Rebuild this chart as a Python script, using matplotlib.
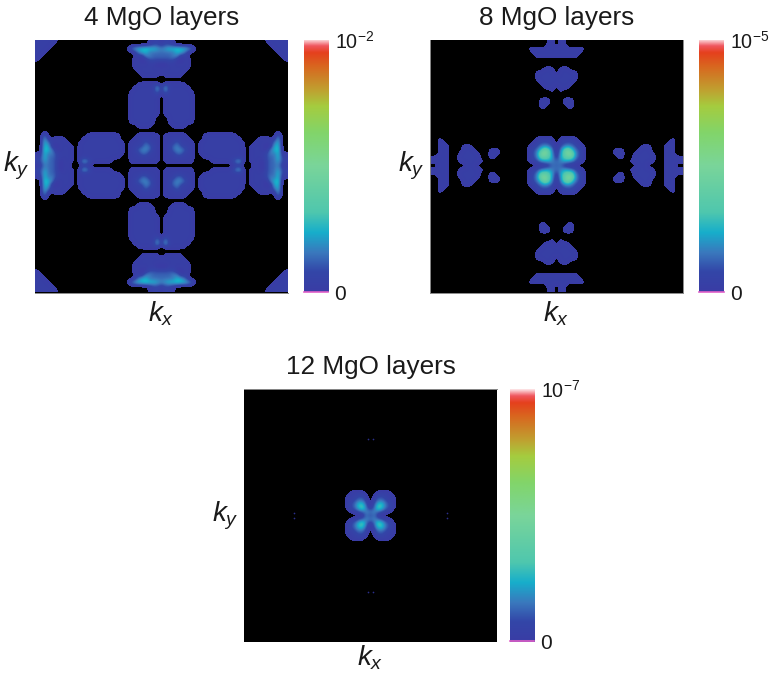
import numpy as np
import matplotlib
matplotlib.use("Agg")
import matplotlib.pyplot as plt
from matplotlib.colors import LinearSegmentedColormap

plt.rcParams['font.family'] = ['Liberation Sans', 'DejaVu Sans']
plt.rcParams['mathtext.fontset'] = 'custom'
plt.rcParams['mathtext.rm'] = 'Liberation Sans'
plt.rcParams['mathtext.it'] = 'Liberation Sans:italic'
plt.rcParams['mathtext.bf'] = 'Liberation Sans:bold'

TITLES = ['4 MgO layers', '8 MgO layers', '12 MgO layers']
TOP_LABELS = ['$\\mathrm{10^{-2}}$', '$\\mathrm{10^{-5}}$', '$\\mathrm{10^{-7}}$']
GRID_SCALE = 20.0

# Hand-read transmission levels (hex digit / 20 of colour-bar range),
# rows from panel top to centre, columns 22..32 of the top-left quadrant.
mgo4_column = [
    ".......112.", ".......1221", "..356676654", "....3553333", "...11.44333",
    "...11..2222", "...111111..", "...11111111", "....1111111", ".....11111.",
    "...........", "....111111.", "...1111116.", "..11111114.", "..11111111.",
    "..11111111.", "..11111111.", "..11111111.", "..11111111.", "..11111111.",
    "..1111111..", "..1111111..", "....1111...", "...........", "....111111.",
    "...1111111.", "..11111111.", "..11122211.", "..11344211.", "..11133111.",
    "..11111111.", "...1111111.", "...........",
]
mgo4_corner = ["11111.", "11111.", "1111..", "111...", "11....", "1....."]

mgo8_column = [
    "........11.", "........11.", "...11111111", "....1111111", ".....111111",
    "...........", "...........", ".......111.", ".....11111.", ".....111111",
    ".....111111", "......11111", ".......111.", ".........1.", "...........",
    "......111..", "......111..", "......11...", "...........", "...........",
    "...........", "...........", "...........", "...........", "...........",
    ".....1111..", "....112221.", "...1123432.", "...1236873.", "...124ab84.",
    "...1238875.", "...11223434", ".........42",
]

mgo12_column = [
    "..........."] * 26 + [
    ".....1111..", "....111221.", "....112331.", "....123662.", "....123683.",
    ".....112344", ".........41",
]

# Faint specks of the 12-layer panel, in grid units from the centre.
speck_along = [-19.7, -19.7, 19.7, 19.7, -0.7, 0.7, -0.7, 0.7]
speck_across = [-0.7, 0.7, -0.7, 0.7, -19.7, -19.7, 19.7, 19.7]

colorbar_stops = [0.0, 0.08, 0.155, 0.235, 0.315, 0.5, 0.63, 0.735, 0.80, 0.895, 0.947, 0.974, 1.0]
colorbar_colors = ['#3a3ca5', '#3346a8', '#3a78bd', '#17aecb', '#4fc7ae', '#7ad59a', '#82d56a',
                   '#a5cc3f', '#c0a030', '#d9651f', '#e5401d', '#f0575f', '#fde6e8']

cmap = LinearSegmentedColormap.from_list('mgo', list(zip(colorbar_stops, colorbar_colors)), N=512)
cmap.set_under('black')


def build_grid(column, corner=None):
    n = 33
    q = np.zeros((n, n))
    for r, row in enumerate(column):
        for c, ch in enumerate(row):
            if ch != '.':
                q[r, 22 + c] = int(ch, 16) / GRID_SCALE
    if corner:
        for r, row in enumerate(corner):
            for c, ch in enumerate(row):
                if ch != '.':
                    q[r, c] = int(ch, 16) / GRID_SCALE
    q = np.maximum(q, q.T)
    top = np.hstack([q, q[:, -2::-1]])
    return np.vstack([top, top[-2::-1, :]])


def soften(grid, factor=4, sigma=2.4):
    """Round the coarse reading: repeat each cell, then a Gaussian blur."""
    fine = np.repeat(np.repeat(grid, factor, axis=0), factor, axis=1)
    radius = int(3 * sigma)
    k = np.exp(-0.5 * (np.arange(-radius, radius + 1) / sigma) ** 2)
    k /= k.sum()
    pad = np.pad(fine, radius, mode='edge')
    pad = np.apply_along_axis(lambda v: np.convolve(v, k, mode='same'), 0, pad)
    pad = np.apply_along_axis(lambda v: np.convolve(v, k, mode='same'), 1, pad)
    return pad[radius:-radius, radius:-radius]


W, H = 769, 675
fig = plt.figure(figsize=(W / 100, H / 100), dpi=100, facecolor='white')


def box(x0, y0, x1, y1):
    return [x0 / W, 1 - y1 / H, (x1 - x0) / W, (y1 - y0) / H]


panels = [
    (build_grid(mgo4_column, mgo4_corner), (35, 40, 288, 292.5), (304, 40, 328.3, 292.5), ['bottom'], 5),
    (build_grid(mgo8_column), (430, 40, 682.7, 292.5), (699, 40, 724, 292.5), ['left', 'right', 'bottom'], 5),
    (build_grid(mgo12_column), (244.3, 389.3, 496.8, 641.8), (510, 389.3, 534.3, 641.8), ['top'], 1.2),
]

for i, (grid, pbox, cbox, edges, xpad) in enumerate(panels):
    ax = fig.add_axes(box(*pbox))
    im = ax.imshow(soften(grid), cmap=cmap, vmin=0.025, vmax=1.0, interpolation='bilinear',
                   interpolation_stage='data', extent=(-32.5, 32.5, -32.5, 32.5), aspect='auto')
    ax.patch.set_facecolor('black')
    ax.set_xticks([])
    ax.set_yticks([])
    for name, s in ax.spines.items():
        s.set_visible(name in edges)
        s.set_color('#8a8a8a')
        s.set_linewidth(0.7)
    ax.set_title(TITLES[i], fontsize=18.8, color='#1a1a1a', pad=11)
    ax.set_xlabel('$\\mathit{k_x}$', fontsize=20, color='#1a1a1a', labelpad=xpad)
    ax.set_ylabel('$\\mathit{k_y}$', fontsize=20, color='#1a1a1a', rotation=0, labelpad=13.5, va='center')
    if i == 2:
        ax.scatter(speck_along, speck_across, s=1.5, color='#2a2f8a', linewidths=0)

    cax = fig.add_axes(box(*cbox))
    grad = np.linspace(0, 1, 512)[:, None]
    cax.imshow(grad, cmap=cmap, origin='lower', extent=(0, 1, 0, 1), aspect='auto',
               vmin=0, vmax=1, interpolation='bilinear')
    cax.axhline(0.002, color='#e060c8', lw=1.2, clip_on=False)
    cax.set_xticks([])
    cax.yaxis.tick_right()
    cax.set_yticks([0.0, 1.0])
    labels = cax.set_yticklabels(['0', TOP_LABELS[i]], fontsize=14.2, color='#1a1a1a')
    labels[0].set_fontsize(15)
    cax.tick_params(axis='y', length=0, pad=4.5)
    for s in cax.spines.values():
        s.set_visible(False)

fig.savefig('out.png', dpi=100, facecolor='white')
